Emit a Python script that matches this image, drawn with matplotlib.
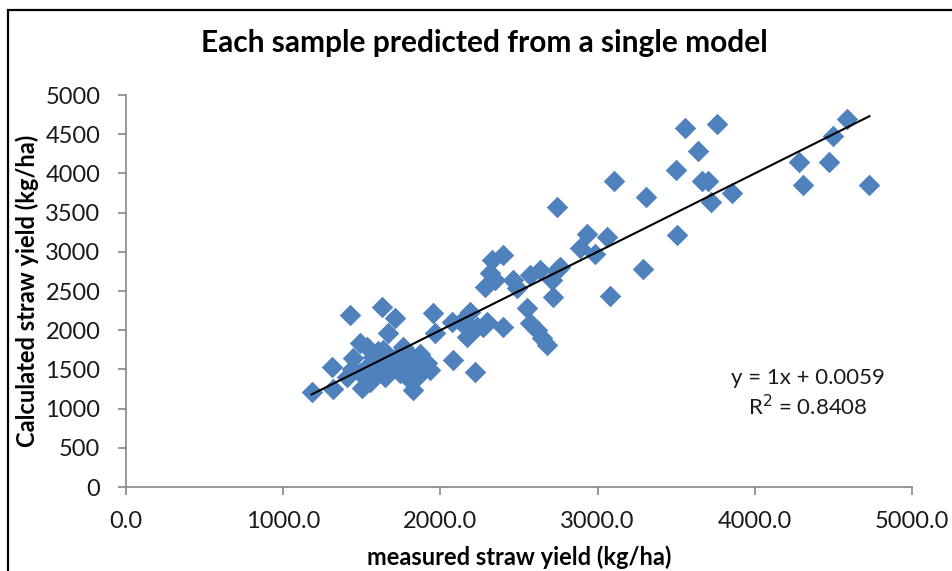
import matplotlib
matplotlib.use("Agg")
import matplotlib.pyplot as plt
from matplotlib.patches import Rectangle
import numpy as np

# measured vs calculated straw yield (kg/ha)
measured = [
    1181, 1309, 1319, 1404, 1425, 1436, 1446, 1489, 1489, 1499,
    1531, 1552, 1573, 1600, 1616, 1626, 1637, 1669, 1711, 1722,
    1743, 1764, 1785, 1807, 1807, 1828, 1849, 1849, 1912, 1934,
    1560, 1680, 1870, 1540, 1650, 1817,
    1891, 1955, 1966, 2072, 2082, 2188, 2167, 2209, 2220, 2273,
    2284, 2316, 2326, 2347, 2400, 2400, 2464, 2485, 2549, 2570,
    2570, 2612, 2634, 2648, 2676, 2708, 2718, 2739, 2742, 2761,
    2230, 2294, 2130,
    2888, 2934, 2983, 3058, 3079, 3104, 3291, 3308, 3499, 3507,
    3558, 3641, 3662, 3704, 3719, 3762, 3857, 4283, 4309, 4474,
    4500, 4588, 4729,
]
calculated = [
    1216, 1535, 1250, 1400, 2194, 1500, 1650, 1832, 1450, 1260,
    1790, 1343, 1662, 1740, 1535, 2300, 1750, 1960, 2151, 1662,
    1450, 1790, 1535, 1684, 1365, 1237, 1535, 1407, 1577, 1492,
    1580, 1600, 1700, 1450, 1400, 1620,
    1620, 2215, 1960, 2109, 1620, 2230, 1917, 2003, 1470, 2045,
    2555, 2726, 2895, 2640, 2959, 2045, 2640, 2534, 2278, 2704,
    2088, 2003, 2768, 1897, 1811, 2640, 2427, 2768, 3571, 2810,
    2045, 2109, 2100,
    3045, 3227, 2972, 3185, 2436, 3899, 2777, 3703, 4043, 3214,
    4580, 4290, 3907, 3907, 3639, 4630, 3746, 4149, 3852, 4149,
    4477, 4690, 3852,
]
slope, intercept, r2 = 1.0, 0.0059, 0.8408
x_ticks = [0, 1000, 2000, 3000, 4000, 5000]
y_ticks = [0, 500, 1000, 1500, 2000, 2500, 3000, 3500, 4000, 4500, 5000]

BLUE, AXIS, INK = "#4F81BD", "#868686", "#1A1A1A"
plt.rcParams["font.family"] = ["Lato", "DejaVu Sans"]

W, H = 953, 571
fig = plt.figure(figsize=(W / 100, H / 100), dpi=100)
fig.patch.set_facecolor("white")

# chart-area border (cropped at right and bottom in the reference)
fig.patches.append(Rectangle((8 / W, -0.1), 1.2, 1 - 10 / H + 0.1, transform=fig.transFigure,
                             fill=False, ec="black", lw=1.6))

ax = fig.add_axes([126 / W, 1 - 487 / H, (912 - 126) / W, (487 - 95) / H])
ax.scatter(measured, calculated, marker="D", s=120, color=BLUE, linewidths=0, zorder=2)

xs = np.array([min(measured), max(measured)])
ax.plot(xs, slope * xs + intercept, color="black", lw=1.5, zorder=3)

ax.set_xlim(0, 5000)
ax.set_ylim(0, 5000)
ax.set_xticks(x_ticks)
ax.set_xticklabels([f"{t:.1f}" for t in x_ticks])
ax.set_yticks(y_ticks)
ax.set_yticklabels([str(t) for t in y_ticks])
for side in ("top", "right"):
    ax.spines[side].set_visible(False)
for side in ("left", "bottom"):
    ax.spines[side].set_color(AXIS)
    ax.spines[side].set_linewidth(1.2)
ax.tick_params(direction="out", length=5.5, width=1.2, color=AXIS, labelsize=17,
               labelcolor=INK)
ax.tick_params(axis="x", pad=12)
ax.tick_params(axis="y", pad=13)

ax.text(0.868, 0.238, f"y = {slope:g}x + {intercept}\nR$^2$ = {r2}", transform=ax.transAxes,
        ha="center", va="center", fontsize=16, color=INK, linespacing=1.3)

fig.text(484 / W, 1 - 43 / H, "Each sample predicted from a single model", ha="center",
         va="center", fontsize=21.5, weight="bold", color="black")
fig.text(519 / W, 1 - 557 / H, "measured straw yield (kg/ha)", ha="center", va="center",
         fontsize=17, weight="bold", color="black")
fig.text(27 / W, 1 - 291 / H, "Calculated straw yield (kg/ha)", ha="center", va="center",
         rotation=90, fontsize=17, weight="bold", color="black")

fig.savefig("out.png", dpi=100, facecolor="white")
